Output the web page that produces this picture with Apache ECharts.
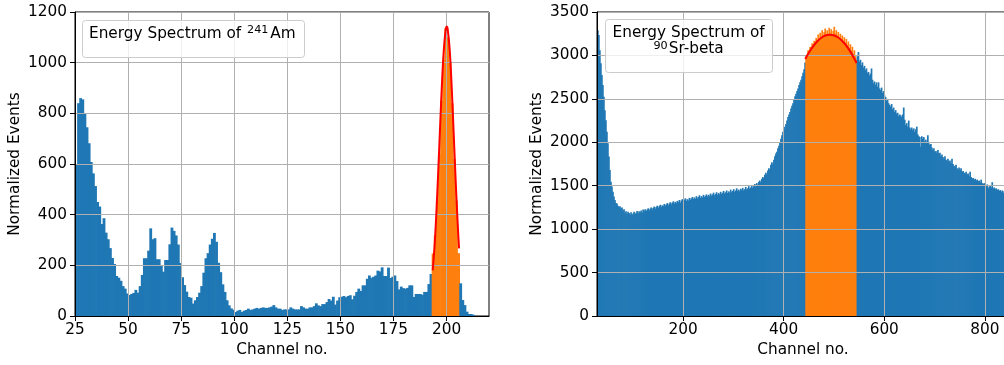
<!DOCTYPE html>
<html><head><meta charset="utf-8">
<script src="https://cdn.jsdelivr.net/npm/echarts@6/dist/echarts.min.js"></script>
<style>html,body{margin:0;padding:0;background:#fff}#c{width:1004px;height:365px}</style>
</head><body><div id="c"></div>
<script>
// ---------- Data: 241Am spectrum (1 channel per bin, first bin = channel 25) ----------
const amStart = 25;
const amBin = 1;
const amCounts = [
  600, 840, 860, 855, 800, 745, 682, 608, 563, 513,
  450, 432, 363, 386, 329, 303, 268, 229, 205, 158,
  151, 139, 118, 108, 89, 83, 87, 91, 103, 92,
  118, 162, 228, 228, 258, 346, 303, 307, 224, 224,
  199, 175, 221, 221, 283, 349, 336, 318, 282, 209,
  153, 122, 96, 75, 72, 49, 62, 75, 92, 118,
  171, 228, 248, 282, 305, 328, 293, 210, 173, 125,
  95, 62, 42, 30, 25, 16, 21, 24, 16, 21,
  24, 29, 24, 26, 29, 32, 29, 32, 34, 32,
  32, 34, 37, 43, 34, 29, 29, 24, 26, 26,
  26, 34, 29, 26, 26, 26, 39, 34, 29, 29,
  34, 34, 39, 50, 42, 39, 47, 47, 55, 67,
  61, 76, 45, 61, 74, 76, 79, 74, 79, 82,
  66, 80, 95, 108, 99, 121, 121, 147, 160, 151,
  155, 160, 179, 176, 192, 158, 158, 191, 150, 155,
  160, 138, 105, 116, 110, 108, 111, 121, 121, 75,
  87, 87, 87, 84, 95, 95, 126, 166, 247, 318,
  455, 640, 850, 1010, 1136, 1100, 1000, 840, 620, 455,
  248, 129, 63, 43, 17, 8, 8, 5
];
const amFitRange = [193, 205];           // highlighted (fit) channels
const amFitX = [193.5, 194.5, 195.5, 196.5, 197.5, 198.5, 199.5, 200.1, 200.5, 201.5, 202.5, 203.5, 204.5, 205.5, 205.9];
const amFitY = [180, 294, 458, 652, 853, 1023, 1125, 1143, 1135, 1050, 891, 693, 495, 324, 267];
const amXTicks = [25, 50, 75, 100, 125, 150, 175, 200];

// ---------- Data: 90Sr-beta spectrum (2 channels per bin, first bin = channel 29) ----------
const srStart = 29;
const srBin = 2;
const srCounts = [
  3290, 3235, 3060, 2910, 2775, 2660, 2525, 2370, 2255, 2120,
  1990, 1835, 1680, 1545, 1490, 1430, 1375, 1335, 1300, 1295,
  1270, 1255, 1265, 1240, 1250, 1215, 1230, 1190, 1205, 1175,
  1200, 1185, 1170, 1195, 1165, 1180, 1200, 1175, 1190, 1210,
  1180, 1205, 1195, 1215, 1190, 1225, 1205, 1230, 1210, 1225,
  1240, 1215, 1235, 1250, 1225, 1245, 1260, 1235, 1255, 1270,
  1245, 1265, 1280, 1255, 1275, 1265, 1290, 1270, 1285, 1300,
  1275, 1295, 1310, 1285, 1305, 1320, 1295, 1315, 1300, 1325,
  1310, 1335, 1305, 1330, 1345, 1320, 1340, 1355, 1325, 1345,
  1330, 1360, 1340, 1355, 1370, 1345, 1365, 1350, 1380, 1355,
  1370, 1390, 1360, 1380, 1365, 1395, 1370, 1385, 1400, 1375,
  1395, 1380, 1410, 1385, 1400, 1420, 1390, 1405, 1425, 1395,
  1415, 1400, 1430, 1405, 1420, 1440, 1410, 1425, 1445, 1415,
  1435, 1420, 1455, 1425, 1440, 1460, 1430, 1445, 1470, 1440,
  1455, 1435, 1465, 1450, 1475, 1445, 1460, 1485, 1455, 1470,
  1495, 1465, 1480, 1500, 1475, 1495, 1520, 1490, 1530, 1510,
  1545, 1560, 1540, 1580, 1600, 1585, 1625, 1650, 1630, 1675,
  1700, 1690, 1740, 1770, 1750, 1800, 1840, 1870, 1890, 1930,
  1960, 2000, 2040, 2080, 2120, 2150, 2180, 2210, 2250, 2290,
  2320, 2350, 2390, 2420, 2450, 2490, 2530, 2560, 2590, 2620,
  2660, 2690, 2720, 2760, 2800, 2840, 2920, 2990, 3010, 3060,
  3040, 3100, 3080, 3140, 3110, 3170, 3130, 3200, 3160, 3240,
  3190, 3260, 3210, 3290, 3230, 3270, 3310, 3240, 3290, 3250,
  3320, 3260, 3300, 3240, 3280, 3330, 3250, 3290, 3230, 3270,
  3210, 3250, 3190, 3230, 3170, 3210, 3150, 3190, 3120, 3160,
  3090, 3130, 3060, 3100, 3020, 3060, 2990, 2950, 2990, 3040,
  2930, 2950, 2890, 2920, 2860, 2880, 2830, 2850, 2800, 2810,
  2770, 2790, 2850, 2720, 2680, 2700, 2660, 2690, 2640, 2690,
  2620, 2600, 2630, 2570, 2590, 2540, 2520, 2480, 2500, 2450,
  2430, 2410, 2440, 2380, 2400, 2350, 2370, 2330, 2340, 2300,
  2320, 2310, 2290, 2320, 2400, 2260, 2200, 2220, 2180, 2250,
  2170, 2150, 2170, 2140, 2160, 2120, 2150, 2180, 2090, 2070,
  2060, 1950, 2070, 2040, 2060, 2010, 2030, 2000, 2080, 1990,
  1970, 1980, 1940, 1910, 1930, 1890, 1900, 1880, 1910, 1870,
  1880, 1840, 1860, 1830, 1810, 1840, 1800, 1790, 1810, 1780,
  1790, 1760, 1810, 1750, 1730, 1720, 1740, 1700, 1690, 1710,
  1680, 1700, 1660, 1670, 1650, 1640, 1660, 1630, 1640, 1610,
  1660, 1600, 1580, 1590, 1570, 1580, 1560, 1570, 1550, 1560,
  1540, 1570, 1530, 1520, 1530, 1510, 1500, 1515, 1470, 1490,
  1500, 1480, 1540, 1470, 1480, 1460, 1470, 1450, 1460, 1440,
  1450, 1430, 1445, 1420, 1440, 1430
];
const srFitRange = [443, 543];
const srFitX = [443, 451, 459, 467, 475, 483, 491, 499, 507, 515, 523, 531, 539, 545];
const srFitY = [2958, 3040, 3108, 3164, 3204, 3229, 3239, 3233, 3212, 3175, 3123, 3058, 2980, 2913];
const srXTicks = [200, 400, 600, 800];

// ---------- Styling ----------
const BLUE = '#1f77b4', ORANGE = '#ff7f0e', RED = '#ff0000', GRIDC = '#b0b0b0';
const FONT = 'DejaVu Sans';
const FS = 15.3;

// each item: [bin start, count, highlighted?]
function histData(start, bin, counts, range) {
  return counts.map(function (v, i) {
    const c = start + i * bin;
    return [c, v, (c >= range[0] && c <= range[1]) ? 1 : 0];
  });
}
function histRender(bin) {
  return function (params, api) {
    const x0 = api.value(0), v = api.value(1);
    const p0 = api.coord([x0, v]);
    const p1 = api.coord([x0 + bin, 0]);
    return {
      type: 'rect',
      shape: { x: p0[0], y: p0[1], width: p1[0] - p0[0] + 0.7, height: p1[1] - p0[1] },
      style: { fill: api.value(2) ? ORANGE : BLUE }
    };
  };
}
function pairs(xs, ys) { return xs.map(function (x, i) { return [x, ys[i]]; }); }
function plain(v) { return String(v); }

const txt = { color: '#000', fontFamily: FONT, fontSize: FS };
function xAxisCfg(grid, min, max, ticks, interval, split) {
  return {
    gridIndex: grid, type: 'value', min: min, max: max, interval: interval, z: 5,
    axisLine: { show: true, onZero: false, lineStyle: { color: '#000', width: 1 } },
    axisTick: { show: true, length: 5, customValues: ticks, lineStyle: { color: '#000', width: 1 } },
    axisLabel: Object.assign({ customValues: ticks, margin: 7, formatter: plain }, txt),
    splitLine: { show: split, lineStyle: { color: GRIDC, width: 1 } },
    name: 'Channel no.', nameLocation: 'middle', nameGap: 25, nameTextStyle: Object.assign({}, txt)
  };
}
function yAxisCfg(grid, max, interval) {
  return {
    gridIndex: grid, type: 'value', min: 0, max: max, interval: interval, z: 5,
    axisLine: { show: true, lineStyle: { color: '#000', width: 1 } },
    axisTick: { show: true, length: 5, lineStyle: { color: '#000', width: 1 } },
    axisLabel: Object.assign({ margin: 8, formatter: plain }, txt),
    splitLine: { show: true, lineStyle: { color: GRIDC, width: 1 } },
    name: 'Normalized Events', nameLocation: 'middle', nameGap: 52, nameRotate: 90,
    nameTextStyle: Object.assign({}, txt)
  };
}

const chart = echarts.init(document.getElementById('c'), null, { renderer: 'canvas' });
chart.setOption({
  animation: false,
  backgroundColor: '#fff',
  textStyle: { fontFamily: FONT },
  grid: [
    { left: 75, top: 12, width: 414, height: 304, outerBoundsMode: 'none', containLabel: false,
      show: true, borderColor: '#000', borderWidth: 1, backgroundColor: 'transparent' },
    { left: 597, top: 12, width: 412, height: 304, outerBoundsMode: 'none', containLabel: false,
      show: true, borderColor: '#000', borderWidth: 1, backgroundColor: 'transparent' }
  ],
  xAxis: [
    xAxisCfg(0, 25, 220, amXTicks, 25, true),
    xAxisCfg(1, 29, 848, srXTicks, 1, false)
  ],
  yAxis: [
    yAxisCfg(0, 1200, 200),
    yAxisCfg(1, 3500, 500)
  ],
  series: [
    { type: 'custom', xAxisIndex: 0, yAxisIndex: 0, clip: true, z: 2,
      renderItem: histRender(amBin), encode: { x: 0, y: 1 },
      data: histData(amStart, amBin, amCounts, amFitRange) },
    { type: 'line', xAxisIndex: 0, yAxisIndex: 0, smooth: 0.3, symbol: 'none',
      lineStyle: { color: RED, width: 2 }, data: pairs(amFitX, amFitY), z: 10 },
    { type: 'custom', xAxisIndex: 1, yAxisIndex: 1, clip: true, z: 2,
      renderItem: histRender(srBin), encode: { x: 0, y: 1 },
      data: histData(srStart, srBin, srCounts, srFitRange) },
    { type: 'line', xAxisIndex: 1, yAxisIndex: 1, smooth: 0.3, symbol: 'none',
      lineStyle: { color: RED, width: 2 }, data: pairs(srFitX, srFitY), z: 10,
      markLine: { silent: true, symbol: 'none', animation: false, label: { show: false },
        lineStyle: { color: GRIDC, width: 1, type: 'solid' },
        data: srXTicks.map(function (v) { return { xAxis: v }; }) } }
  ],
  graphic: { elements: [
    { type: 'rect', z: 100, shape: { x: 82.5, y: 20.5, width: 222, height: 37, r: 3 },
      style: { fill: 'rgba(255,255,255,0.8)', stroke: '#cccccc', lineWidth: 1 } },
    { type: 'text', z: 101, x: 89, y: 34.5,
      style: { text: '{a|Energy Spectrum of }{s|241}{a|Am}', align: 'left', verticalAlign: 'middle',
        rich: { a: { fontSize: FS, fontFamily: FONT, fill: '#000', lineHeight: 20 },
                s: { fontSize: 11.2, fontFamily: FONT, fill: '#000', lineHeight: 12, verticalAlign: 'top', padding: [0, 2, 0, 1] } } } },
    { type: 'rect', z: 100, shape: { x: 605.5, y: 19.5, width: 167, height: 53, r: 3 },
      style: { fill: 'rgba(255,255,255,0.8)', stroke: '#cccccc', lineWidth: 1 } },
    { type: 'text', z: 101, x: 688.6, y: 41,
      style: { text: '{a|Energy Spectrum of}\n{s|90}{a|Sr-beta}', align: 'center', verticalAlign: 'middle',
        rich: { a: { fontSize: FS, fontFamily: FONT, fill: '#000', lineHeight: 16, align: 'center' },
                s: { fontSize: 11.2, fontFamily: FONT, fill: '#000', lineHeight: 6, verticalAlign: 'top', align: 'center', padding: [0, 1, 0, 0] } } } }
  ] }
});
</script>
</body></html>
